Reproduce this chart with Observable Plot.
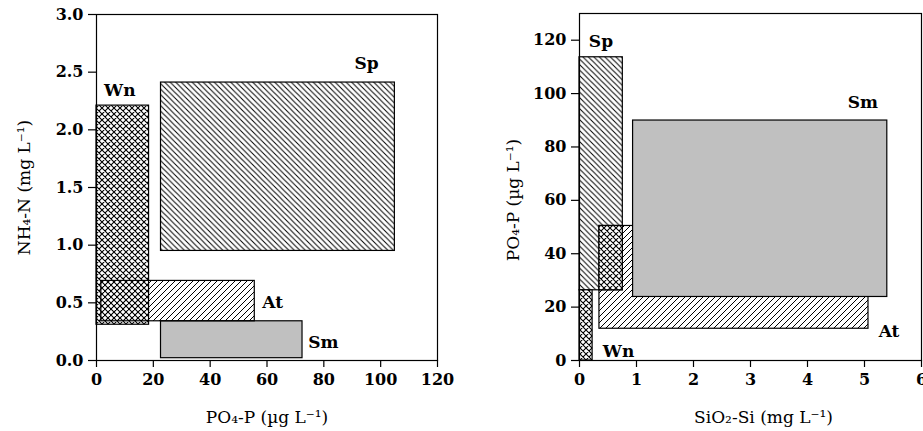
<!DOCTYPE html>
<html>
<head>
<meta charset="utf-8">
<script src="https://cdn.jsdelivr.net/npm/d3@7"></script>
<script src="https://cdn.jsdelivr.net/npm/@observablehq/plot@0.6"></script>
<style>
  html, body { margin: 0; padding: 0; background: white; }
  #wrap { position: relative; width: 923px; height: 431px; overflow: hidden; }
  #left, #right { position: absolute; top: 0; }
  #left { left: 0; }
  #right { left: 460px; }
</style>
</head>
<body>
<svg width="0" height="0" style="position:absolute">
  <defs>
    <pattern id="hatchBack" width="5.5" height="5.5" patternUnits="userSpaceOnUse">
      <path d="M-1,-1L6.5,6.5M-1,4.5L1,6.5M4.5,-1L6.5,1" stroke="black" stroke-width="1" fill="none"/>
    </pattern>
    <pattern id="hatchFwd" width="6" height="6" patternUnits="userSpaceOnUse">
      <path d="M-1,7L7,-1M-1,1L1,-1M5,7L7,5" stroke="black" stroke-width="1" fill="none"/>
    </pattern>
    <pattern id="cross" width="6" height="6" patternUnits="userSpaceOnUse">
      <path d="M-1,-1L7,7M-1,5L1,7M5,-1L7,1M-1,7L7,-1M-1,1L1,-1M5,7L7,5" stroke="black" stroke-width="1.1" fill="none"/>
    </pattern>
    <pattern id="crossWhite" width="6" height="6" patternUnits="userSpaceOnUse">
      <rect width="6" height="6" fill="white"/>
      <path d="M-1,-1L7,7M-1,5L1,7M5,-1L7,1M-1,7L7,-1M-1,1L1,-1M5,7L7,5" stroke="black" stroke-width="1.1" fill="none"/>
    </pattern>
  </defs>
</svg>
<div id="wrap"><div id="left"></div><div id="right"></div></div>
<script>
// ---------- Left panel: NH4-N vs PO4-P ----------
const leftSeasons = ["Sp", "Sm", "Wn", "At"];
const leftPO4Min = [22.7, 22.7, 0, 1.7];
const leftPO4Max = [105, 72.5, 18.5, 55.7];
const leftNH4Min = [0.95, 0.02, 0.31, 0.34];
const leftNH4Max = [2.41, 0.34, 2.21, 0.69];
const leftLabelNames = ["Sp", "Wn", "At", "Sm"];
const leftLabelX = [95, 8.2, 62, 79.8];
const leftLabelY = [2.573, 2.34, 0.506, 0.159];
const leftXTicks = [0, 20, 40, 60, 80, 100, 120];
const leftYTicks = [0, 0.5, 1.0, 1.5, 2.0, 2.5, 3.0];

// ---------- Right panel: PO4-P vs SiO2-Si ----------
const rightSeasons = ["Sp", "At", "Wn", "Wn", "Sm"];
const rightSiMin = [0, 0.35, 0, 0.35, 0.94];
const rightSiMax = [0.76, 5.07, 0.23, 0.76, 5.40];
const rightPO4Min = [26.3, 11.9, 0, 26.3, 23.8];
const rightPO4Max = [113.6, 50.4, 26.3, 50.4, 89.9];
const rightLabelNames = ["Sp", "Sm", "At", "Wn"];
const rightLabelX = [0.376, 4.97, 5.43, 0.685];
const rightLabelY = [119.6, 96.5, 11.0, 3.5];
const rightXTicks = [0, 1, 2, 3, 4, 5, 6];
const rightYTicks = [0, 20, 40, 60, 80, 100, 120];

const leftFill = {Sp: "url(#hatchBack)", Sm: "#c0c0c0", Wn: "url(#cross)", At: "url(#hatchFwd)"};
const rightFill = {Sp: "url(#hatchBack)", At: "url(#hatchFwd)", Wn: "url(#crossWhite)", Sm: "#c0c0c0"};

const leftRects = leftSeasons.map((s, i) => ({season: s, x1: leftPO4Min[i], x2: leftPO4Max[i], y1: leftNH4Min[i], y2: leftNH4Max[i]}));
const leftLabels = leftLabelNames.map((s, i) => ({season: s, x: leftLabelX[i], y: leftLabelY[i]}));
const rightRects = rightSeasons.map((s, i) => ({season: s, x1: rightSiMin[i], x2: rightSiMax[i], y1: rightPO4Min[i], y2: rightPO4Max[i]}));
const rightLabels = rightLabelNames.map((s, i) => ({season: s, x: rightLabelX[i], y: rightLabelY[i]}));

function rectMarks(rects, fills) {
  return rects.map((d) => Plot.rect([d], {x1: "x1", x2: "x2", y1: "y1", y2: "y2", fill: fills[d.season], stroke: "black", strokeWidth: 1.2}));
}

function panel(o) {
  return Plot.plot({
    width: o.width, height: 431,
    marginTop: o.marginTop, marginBottom: 71, marginLeft: o.marginLeft, marginRight: o.marginRight,
    style: {fontFamily: "DejaVu Serif", fontSize: "16px", color: "black", background: "transparent", overflow: "visible"},
    x: {domain: o.xDomain}, y: {domain: o.yDomain},
    marks: [
      ...rectMarks(o.rects, o.fills),
      Plot.frame({stroke: "black", strokeWidth: 1.2}),
      Plot.axisX({ticks: o.xTicks, tickSize: 7, tickPadding: 6, tickFormat: o.xFmt, fontWeight: "bold", fontSize: 16, label: null, strokeWidth: 1.2}),
      Plot.axisY({ticks: o.yTicks, tickSize: 8, tickPadding: 5, tickFormat: o.yFmt, fontWeight: "bold", fontSize: 16, label: null, strokeWidth: 1.2}),
      Plot.text(o.labels, {x: "x", y: "y", text: "season", fontWeight: "bold", fontSize: 17}),
      Plot.text([o.xLabel], {frameAnchor: "bottom", textAnchor: "middle", lineAnchor: "middle", dy: 57, dx: o.xLabelDx, text: (d) => d, fontSize: 17}),
      Plot.text([o.yLabel], {frameAnchor: "left", textAnchor: "middle", lineAnchor: "middle", dx: o.yLabelDx, dy: o.yLabelDy, rotate: -90, text: (d) => d, fontSize: 17})
    ]
  });
}

document.getElementById("left").append(panel({
  width: 460, marginTop: 14, marginLeft: 96, marginRight: 23,
  xDomain: [0, 120], yDomain: [0, 3],
  xTicks: leftXTicks, yTicks: leftYTicks,
  xFmt: (d) => String(d), yFmt: d3.format(".1f"),
  rects: leftRects, fills: leftFill, labels: leftLabels,
  xLabel: "PO₄-P (µg L⁻¹)", xLabelDx: 0,
  yLabel: "NH₄-N (mg L⁻¹)", yLabelDx: -72, yLabelDy: 0
}));

document.getElementById("right").append(panel({
  width: 463, marginTop: 13, marginLeft: 119, marginRight: 2,
  xDomain: [0, 6], yDomain: [0, 130],
  xTicks: rightXTicks, yTicks: rightYTicks,
  xFmt: (d) => String(d), yFmt: (d) => String(d),
  rects: rightRects, fills: rightFill, labels: rightLabels,
  xLabel: "SiO₂-Si (mg L⁻¹)", xLabelDx: 13,
  yLabel: "PO₄-P (µg L⁻¹)", yLabelDx: -66, yLabelDy: 13
}));
</script>
</body>
</html>
